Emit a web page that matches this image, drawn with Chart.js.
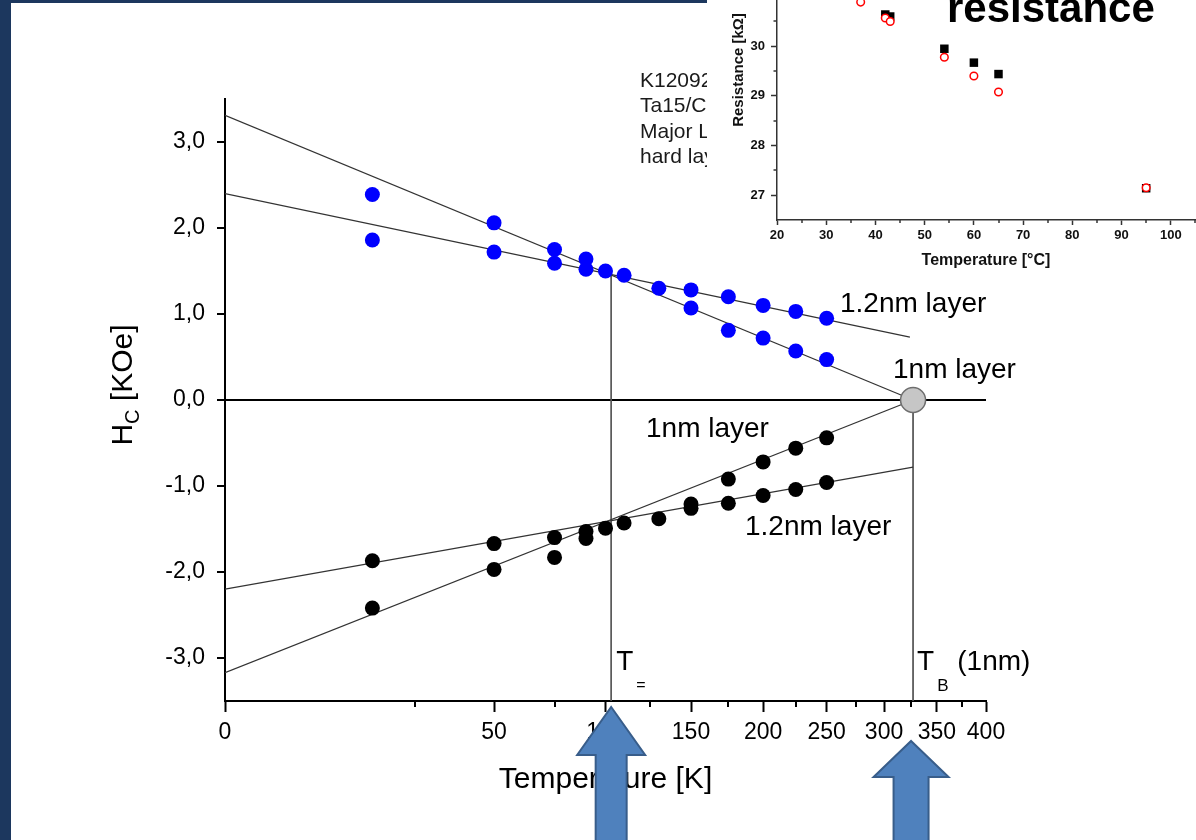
<!DOCTYPE html>
<html>
<head>
<meta charset="utf-8">
<script src="https://cdn.jsdelivr.net/npm/chart.js@4.4.1/dist/chart.umd.min.js"></script>
<style>
  html, body { margin: 0; padding: 0; width: 1196px; height: 840px; overflow: hidden; background: #fff; }
  #mainBox { position: absolute; left: 0; top: 0; width: 1196px; height: 840px; }
  #notes { position: absolute; left: 640px; top: 67px; font: 21px "Liberation Sans", Arial, sans-serif;
           color: #1a1a1a; line-height: 25.3px; z-index: 1; white-space: nowrap; }
  #insetBox { position: absolute; left: 707px; top: -70px; width: 540px; height: 350px; z-index: 2; }
  .frame { position: absolute; background: #1c375e; z-index: 3; }
</style>
</head>
<body>
<div id="mainBox"><canvas id="chart"></canvas></div>
<div id="notes">K12092<br>Ta15/C<br>Major L<br>hard lay</div>
<div id="insetBox"><canvas id="inset"></canvas></div>
<div class="frame" style="left:0;top:0;width:11px;height:840px"></div>
<div class="frame" style="left:0;top:0;width:707px;height:3px"></div>
<script>
const FONT = '"Liberation Sans", Arial, sans-serif';

// main chart: coercive field vs temperature (x axis is sqrt(T))
const majorTicksT = [0, 50, 100, 150, 200, 250, 300, 350, 400];
const minorTicksT = [25, 75, 125, 175, 225, 275, 325, 375];
const hcTicks = [-3, -2, -1, 0, 1, 2, 3];

const tBlue1nm = [15, 50, 75, 90, 100, 110, 130, 150, 175, 200, 225, 250];
const hcBlue1nm = [2.39, 2.06, 1.75, 1.64, 1.50, 1.45, 1.30, 1.07, 0.81, 0.72, 0.57, 0.47];
const tBlue12nm = [15, 50, 75, 90, 150, 175, 200, 225, 250];
const hcBlue12nm = [1.86, 1.72, 1.59, 1.52, 1.28, 1.20, 1.10, 1.03, 0.95];

const tBlack1nm = [15, 50, 75, 90, 100, 110, 175, 200, 225, 250];
const hcBlack1nm = [-2.42, -1.97, -1.83, -1.61, -1.49, -1.43, -0.92, -0.72, -0.56, -0.44];
const tBlack12nm = [15, 50, 75, 90, 130, 150, 150, 175, 200, 225, 250];
const hcBlack12nm = [-1.87, -1.67, -1.60, -1.53, -1.38, -1.21, -1.26, -1.20, -1.11, -1.04, -0.96];

// fitted lines (end points)
const fitBlue1nmT = [0, 327], fitBlue1nmH = [3.31, 0];
const fitBlue12nmT = [0, 324], fitBlue12nmH = [2.40, 0.73];
const fitBlack1nmT = [0, 327], fitBlack1nmH = [-3.17, 0];
const fitBlack12nmT = [0, 327], fitBlack12nmH = [-2.20, -0.78];

const tEqual = 103;
const tBlocking = 327;

// inset: resistance vs temperature
const insetTempTicks = [20, 30, 40, 50, 60, 70, 80, 90, 100, 110];
const insetTempMinor = [25, 35, 45, 55, 65, 75, 85, 95, 105];
const insetResTicks = [27, 28, 29, 30];
const insetResMinor = [27.5, 28.5, 29.5, 30.5];
const insetT1 = [42, 43, 54, 60, 65, 95];
const insetR1 = [30.64, 30.60, 29.95, 29.67, 29.44, 27.14];
const insetT2 = [37, 42, 43, 54, 60, 65, 95];
const insetR2 = [30.89, 30.57, 30.50, 29.78, 29.40, 29.08, 27.15];

function pts(ts, vs) {
    return ts.map((t, i) => ({ x: Math.sqrt(t), y: vs[i] }));
}

function dots(data, color) {
    return { data: data, pointRadius: 7.5, pointHoverRadius: 7.5, backgroundColor: color,
             borderWidth: 0, showLine: false, order: 1 };
}

function line(data, color, width) {
    return { data: data, showLine: true, pointRadius: 0, borderColor: color,
             borderWidth: width, order: 2 };
}

function drawRuns(ctx, runs, x, y, align) {
    let w = 0;
    runs.forEach(r => {
        ctx.font = (r.bold ? 'bold ' : '') + r.size + 'px ' + FONT;
        r.w = ctx.measureText(r.text).width;
        w += r.w + (r.gap || 0);
    });
    let cx = align === 'center' ? x - w / 2 : x;
    runs.forEach(r => {
        ctx.font = (r.bold ? 'bold ' : '') + r.size + 'px ' + FONT;
        cx += (r.gap || 0);
        ctx.fillText(r.text, cx, y + (r.dy || 0));
        cx += r.w;
    });
}

function arrowUp(ctx, x, tipY, headY, headHalf, shaftHalf, bottom) {
    ctx.beginPath();
    ctx.moveTo(x, tipY);
    ctx.lineTo(x + headHalf, headY);
    ctx.lineTo(x + shaftHalf, headY);
    ctx.lineTo(x + shaftHalf, bottom);
    ctx.lineTo(x - shaftHalf, bottom);
    ctx.lineTo(x - shaftHalf, headY);
    ctx.lineTo(x - headHalf, headY);
    ctx.closePath();
    ctx.fillStyle = '#4f81bd';
    ctx.fill();
    ctx.strokeStyle = '#385d8a';
    ctx.lineWidth = 2;
    ctx.stroke();
}

const mainExtras = {
    id: 'mainExtras',
    afterDraw(chart) {
        const ctx = chart.ctx;
        const xs = chart.scales.x;
        const area = chart.chartArea;
        ctx.save();
        // minor ticks on the temperature axis
        ctx.strokeStyle = '#000';
        ctx.lineWidth = 2;
        minorTicksT.forEach(t => {
            const px = Math.round(xs.getPixelForValue(Math.sqrt(t)));
            ctx.beginPath();
            ctx.moveTo(px, area.bottom);
            ctx.lineTo(px, area.bottom + 6);
            ctx.stroke();
        });

        ctx.fillStyle = '#000';
        ctx.textBaseline = 'alphabetic';
        ctx.textAlign = 'left';
        // axis titles
        drawRuns(ctx, [{ text: 'Temperature [K]', size: 30 }], (area.left + area.right) / 2, 788, 'center');
        ctx.save();
        ctx.translate(132, 385);
        ctx.rotate(-Math.PI / 2);
        drawRuns(ctx, [{ text: 'H', size: 30 }, { text: 'C', size: 20, dy: 7 }, { text: ' [KOe]', size: 30 }], 0, 0, 'center');
        ctx.restore();

        // annotations
        drawRuns(ctx, [{ text: '1.2nm layer', size: 28 }], 840, 312, 'left');
        drawRuns(ctx, [{ text: '1nm layer', size: 28 }], 893, 378, 'left');
        drawRuns(ctx, [{ text: '1nm layer', size: 28 }], 646, 437, 'left');
        drawRuns(ctx, [{ text: '1.2nm layer', size: 28 }], 745, 535, 'left');
        const xEq = xs.getPixelForValue(Math.sqrt(tEqual));
        const xB = xs.getPixelForValue(Math.sqrt(tBlocking));
        drawRuns(ctx, [{ text: 'T', size: 28 }, { text: '=', size: 16, dy: 20, gap: 3 }], xEq + 5, 670, 'left');
        drawRuns(ctx, [{ text: 'T', size: 28 }, { text: 'B', size: 17, dy: 21, gap: 3 }, { text: ' (1nm)', size: 28, gap: 1 }], xB + 4, 670, 'left');

        // blue arrows
        arrowUp(ctx, xEq, area.bottom + 6, area.bottom + 54, 34, 15.5, 850);
        arrowUp(ctx, xB - 2, area.bottom + 40, area.bottom + 76, 37.5, 17.5, 850);
        ctx.restore();
    }
};

const chart = new Chart(document.getElementById('chart').getContext('2d'), {
    type: 'scatter',
    data: {
        datasets: [
            { data: [{ x: Math.sqrt(tBlocking), y: 0 }], pointRadius: 12.5, pointHoverRadius: 12.5,
              backgroundColor: '#c6c6c6', borderColor: '#6e6e6e', borderWidth: 1.5, order: 0 },
            dots(pts(tBlue1nm, hcBlue1nm), '#0000ff'),
            dots(pts(tBlue12nm, hcBlue12nm), '#0000ff'),
            dots(pts(tBlack1nm, hcBlack1nm), '#000000'),
            dots(pts(tBlack12nm, hcBlack12nm), '#000000'),
            line(pts(fitBlue1nmT, fitBlue1nmH), '#333', 1.3),
            line(pts(fitBlue12nmT, fitBlue12nmH), '#333', 1.3),
            line(pts(fitBlack1nmT, fitBlack1nmH), '#333', 1.3),
            line(pts(fitBlack12nmT, fitBlack12nmH), '#333', 1.3),
            line(pts([tEqual, tEqual], [1.48, -3.5]), '#555', 1),
            line(pts([tBlocking, tBlocking], [0, -3.5]), '#555', 1)
        ]
    },
    options: {
        responsive: true,
        maintainAspectRatio: false,
        animation: false,
        layout: { padding: { left: 0, top: 99, right: 210, bottom: 0 } },
        plugins: { legend: { display: false }, tooltip: { enabled: false } },
        scales: {
            x: {
                type: 'linear', min: 0, max: 20,
                afterFit: s => { s.height = 139; },
                afterBuildTicks: s => { s.ticks = majorTicksT.map(t => ({ value: Math.sqrt(t) })); },
                ticks: {
                    autoSkip: false, maxRotation: 0, padding: 7, color: '#000',
                    font: { family: FONT, size: 23 },
                    callback: v => String(Math.round(v * v))
                },
                grid: { drawOnChartArea: false, drawTicks: true, tickLength: 11, tickColor: '#000', tickWidth: 2 },
                border: { display: true, color: '#000', width: 2 }
            },
            y: {
                type: 'linear', min: -3.5, max: 3.5,
                afterFit: s => { s.width = 225; },
                afterBuildTicks: s => { s.ticks = hcTicks.map(v => ({ value: v })); },
                ticks: {
                    autoSkip: false, padding: 12, color: '#000',
                    font: { family: FONT, size: 23 },
                    callback: v => v.toFixed(1).replace('.', ',')
                },
                grid: {
                    color: c => (c.tick && c.tick.value === 0) ? '#000' : 'rgba(0,0,0,0)',
                    lineWidth: 2, tickLength: 8, tickColor: '#000', tickWidth: 2
                },
                border: { display: true, color: '#000', width: 2 }
            }
        }
    },
    plugins: [mainExtras]
});

const insetExtras = {
    id: 'insetExtras',
    beforeDraw(chart) {
        const ctx = chart.ctx;
        ctx.save();
        ctx.fillStyle = '#fff';
        ctx.fillRect(0, 0, chart.width, chart.height);
        ctx.restore();
    },
    afterDraw(chart) {
        const ctx = chart.ctx;
        const xs = chart.scales.x, ys = chart.scales.y, area = chart.chartArea;
        ctx.save();
        ctx.strokeStyle = '#333';
        ctx.lineWidth = 1.5;
        insetTempMinor.forEach(t => {
            const px = Math.round(xs.getPixelForValue(t));
            ctx.beginPath(); ctx.moveTo(px, area.bottom); ctx.lineTo(px, area.bottom + 3); ctx.stroke();
        });
        insetResMinor.forEach(r => {
            const py = Math.round(ys.getPixelForValue(r));
            ctx.beginPath(); ctx.moveTo(area.left, py); ctx.lineTo(area.left - 3.5, py); ctx.stroke();
        });
        ctx.fillStyle = '#111';
        ctx.textBaseline = 'alphabetic';
        drawRuns(ctx, [{ text: 'Temperature [°C]', size: 16, bold: true }], 279, 335, 'center');
        ctx.save();
        ctx.translate(36, 140);
        ctx.rotate(-Math.PI / 2);
        drawRuns(ctx, [{ text: 'Resistance [kΩ]', size: 15, bold: true }], 0, 0, 'center');
        ctx.restore();
        ctx.fillStyle = '#000';
        drawRuns(ctx, [{ text: 'resistance', size: 42, bold: true }], 240, 92, 'left');
        ctx.restore();
    }
};

const inset = new Chart(document.getElementById('inset').getContext('2d'), {
    type: 'scatter',
    data: {
        datasets: [
            { data: insetT2.map((t, i) => ({ x: t, y: insetR2[i] })), pointStyle: 'circle',
              pointRadius: 3.8, pointHoverRadius: 3.8, backgroundColor: '#fff',
              borderColor: '#ff0000', borderWidth: 1.5, order: 0 },
            { data: insetT1.map((t, i) => ({ x: t, y: insetR1[i] })), pointStyle: 'rect',
              pointRadius: 6, pointHoverRadius: 6, backgroundColor: '#000',
              borderColor: '#000', borderWidth: 0, order: 1 }
        ]
    },
    options: {
        responsive: true,
        maintainAspectRatio: false,
        animation: false,
        layout: { padding: { left: 0, top: 17, right: 27, bottom: 0 } },
        plugins: { legend: { display: false }, tooltip: { enabled: false } },
        scales: {
            x: {
                type: 'linear', min: 20, max: 110,
                afterFit: s => { s.height = 60; },
                afterBuildTicks: s => { s.ticks = insetTempTicks.map(v => ({ value: v })); },
                ticks: { autoSkip: false, maxRotation: 0, padding: 3, color: '#111',
                         font: { family: FONT, size: 13, weight: 'bold' } },
                grid: { drawOnChartArea: false, tickLength: 5, tickColor: '#333', tickWidth: 1.5 },
                border: { display: true, color: '#333', width: 1.5 }
            },
            y: {
                type: 'linear', min: 26.5, max: 32,
                afterFit: s => { s.width = 70; },
                afterBuildTicks: s => { s.ticks = insetResTicks.map(v => ({ value: v })); },
                ticks: { autoSkip: false, padding: 6, color: '#111',
                         font: { family: FONT, size: 13, weight: 'bold' } },
                grid: { drawOnChartArea: false, tickLength: 6, tickColor: '#333', tickWidth: 1.5 },
                border: { display: true, color: '#333', width: 1.5 }
            }
        }
    },
    plugins: [insetExtras]
});
</script>
</body>
</html>
